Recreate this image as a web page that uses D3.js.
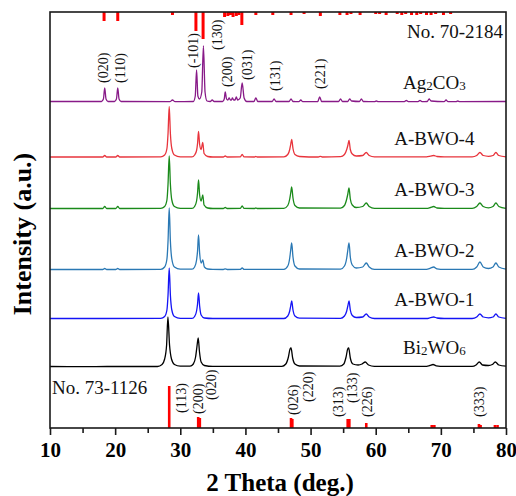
<!DOCTYPE html>
<html>
<head>
<meta charset="utf-8">
<script src="https://d3js.org/d3.v7.min.js"></script>
<style>
  body { margin: 0; background: #fff; }
  svg { display: block; }
  text { font-family: "Times New Roman", "Liberation Serif", serif; }
</style>
</head>
<body>
<svg width="516" height="496"></svg>
<script>
// 2 theta, intensity (a.u.), above each pattern's own baseline
var bi2wo6 = [
    [10, 0.5], [14, 0.3], [20, 0.5], [26.5, 0.5], [27.2, 2.5], [27.6, 8], [27.9, 22], [28.1, 50], [28.35, 22], [28.65, 8], [29.1, 2.5], [30, 0.8],
    [31.5, 0.8], [32.0, 3], [32.35, 10], [32.55, 20], [32.75, 29], [32.95, 15], [33.2, 5], [33.7, 1.5], [35, 0.6],
    [45.6, 0.6], [46.2, 3], [46.6, 10], [46.85, 18], [47.0, 19], [47.25, 9], [47.6, 3], [48.3, 1],
    [54.5, 0.8], [55.1, 3], [55.45, 10], [55.7, 18], [55.85, 19], [56.1, 9], [56.5, 3], [57.3, 2], [57.9, 3], [58.4, 5], [58.9, 2], [59.8, 0.6],
    [67.5, 0.6], [68.3, 1.5], [68.8, 2.5], [69.3, 1.2], [70.5, 0.6],
    [74.8, 0.6], [75.4, 2], [75.9, 5], [76.4, 2], [77.3, 1.5], [77.9, 2.5], [78.35, 5], [78.9, 2], [80, 0.8]
];

var bwo1 = [
    [10, 0.5], [18, 0.5], [27.0, 0.6], [27.6, 2.5], [27.95, 9], [28.12, 24], [28.3, 51], [28.48, 24], [28.7, 9], [29.1, 2.5], [30, 0.6],
    [31.8, 0.6], [32.2, 2.5], [32.5, 8], [32.65, 15], [32.8, 26], [32.97, 13], [33.2, 4], [33.7, 1], [35, 0.5],
    [45.9, 0.5], [46.5, 3], [46.8, 8], [46.95, 13], [47.1, 18], [47.3, 9], [47.6, 3], [48.3, 0.8],
    [54.6, 0.6], [55.2, 3], [55.55, 8], [55.72, 13], [55.9, 18], [56.1, 9], [56.4, 3.5], [57.0, 1.5], [58.0, 2], [58.55, 5], [59.0, 2], [59.8, 0.5],
    [67.8, 0.5], [68.4, 1.3], [68.9, 2], [69.4, 1], [70.5, 0.5],
    [74.8, 0.5], [75.5, 2], [76.0, 5], [76.5, 2], [77.3, 1.2], [78.0, 2], [78.45, 5], [78.9, 2], [80, 0.6]
];

var bwo2 = [
    [10, 0.5], [18.1, 0.5], [18.4, 1.5], [18.7, 0.5], [20.1, 0.5], [20.4, 1.5], [20.7, 0.5],
    [27.0, 0.6], [27.6, 3], [27.95, 11], [28.12, 29], [28.3, 62], [28.48, 29], [28.7, 11], [29.1, 3], [30, 0.8],
    [31.8, 0.8], [32.2, 3], [32.5, 10], [32.65, 19], [32.8, 35], [32.97, 17], [33.2, 7], [33.45, 10], [33.7, 3], [34.2, 1], [35, 0.6],
    [36.6, 0.5], [36.9, 1.2], [37.2, 0.5], [39.2, 0.6], [39.5, 2], [39.8, 0.6],
    [45.9, 0.6], [46.5, 4], [46.8, 12], [46.95, 20], [47.1, 27], [47.3, 13], [47.6, 4], [48.3, 1],
    [54.6, 0.8], [55.2, 4], [55.55, 12], [55.72, 20], [55.9, 27], [56.1, 13], [56.4, 5], [57.0, 2], [58.0, 3], [58.55, 7], [59.0, 3], [59.8, 0.6],
    [67.8, 0.6], [68.4, 1.8], [68.9, 3], [69.4, 1.2], [70.5, 0.6],
    [74.8, 0.6], [75.5, 3], [76.0, 8], [76.5, 3], [77.3, 1.5], [78.0, 3], [78.45, 7], [78.9, 3], [80, 0.8]
];

var bwo3 = [
    [10, 0.5], [18.1, 0.5], [18.4, 2.5], [18.7, 0.5], [20.1, 0.5], [20.4, 2.5], [20.7, 0.5],
    [27.0, 0.6], [27.6, 2.5], [27.95, 9], [28.12, 25], [28.3, 53], [28.48, 25], [28.7, 9], [29.1, 2.5], [30, 0.6],
    [31.8, 0.6], [32.2, 2.5], [32.5, 8], [32.65, 16], [32.8, 29], [32.97, 14], [33.2, 8], [33.45, 14], [33.65, 4], [34.2, 1], [35, 0.5],
    [36.6, 0.5], [36.9, 1.5], [37.2, 0.5], [39.2, 0.6], [39.5, 3], [39.8, 0.6], [41.4, 0.5], [41.6, 1.2], [41.8, 0.5],
    [45.9, 0.6], [46.5, 3.5], [46.8, 10], [46.95, 16], [47.1, 22], [47.3, 11], [47.6, 3.5], [48.3, 1],
    [54.6, 0.8], [55.2, 3.5], [55.55, 10], [55.72, 15], [55.9, 21], [56.1, 10], [56.4, 4], [57.0, 1.5], [58.0, 2.5], [58.55, 6], [59.0, 2.5], [59.8, 0.6],
    [67.8, 0.6], [68.4, 1.5], [68.9, 2.5], [69.4, 1], [70.5, 0.6],
    [74.8, 0.6], [75.5, 2.5], [76.0, 6], [76.5, 2.5], [77.3, 1.2], [78.0, 2.5], [78.45, 6], [78.9, 2.5], [80, 0.6]
];

var bwo4 = [
    [10, 0.5], [18.1, 0.5], [18.4, 2], [18.7, 0.5], [20.1, 0.5], [20.4, 2], [20.7, 0.5],
    [27.0, 0.6], [27.6, 2.5], [27.95, 9], [28.12, 24], [28.3, 51], [28.48, 24], [28.7, 9], [29.1, 2.5], [30, 0.6],
    [31.8, 0.6], [32.2, 2.5], [32.5, 7], [32.65, 14], [32.8, 26], [32.97, 13], [33.2, 8], [33.45, 15], [33.65, 4], [34.2, 1], [35, 0.5],
    [36.6, 0.5], [36.9, 1.5], [37.2, 0.5], [39.2, 0.6], [39.5, 3], [39.8, 0.6], [41.4, 0.5], [41.6, 1], [41.8, 0.5],
    [45.9, 0.6], [46.5, 3], [46.8, 8], [46.95, 13], [47.1, 18], [47.3, 9], [47.6, 3], [48.3, 1],
    [51.2, 0.5], [51.5, 1.2], [51.8, 0.5],
    [54.6, 0.8], [55.2, 3], [55.55, 8], [55.72, 12], [55.9, 17], [56.1, 8], [56.4, 3.5], [57.0, 1.5], [58.0, 2], [58.55, 5], [59.0, 2], [59.8, 0.6],
    [67.8, 0.6], [68.4, 1.3], [68.9, 2], [69.4, 1], [70.5, 0.6],
    [74.8, 0.6], [75.5, 2], [76.0, 5], [76.5, 2], [77.3, 1.2], [78.0, 2], [78.45, 5], [78.9, 2], [80, 0.6]
];

var ag2co3 = [
    [10, 0.5], [17.9, 0.5], [18.2, 3], [18.4, 14], [18.6, 3], [18.9, 0.5],
    [19.9, 0.5], [20.2, 3], [20.4, 14], [20.6, 3], [20.9, 0.5],
    [28.4, 0.3], [28.8, 2], [29.2, 0.3],
    [32.0, 0.5], [32.3, 6], [32.5, 32], [32.7, 6], [32.95, 3], [33.3, 10], [33.55, 56], [33.8, 10], [34.1, 1], [34.6, 0.5], [34.9, 2], [35.2, 0.5],
    [36.5, 0.5], [36.75, 3], [36.9, 10], [37.1, 3], [37.3, 2], [37.5, 4], [37.7, 2], [37.85, 2], [38.0, 4], [38.2, 2], [38.4, 2], [38.6, 5], [38.8, 2],
    [39.2, 4], [39.5, 19], [39.8, 4], [40.2, 0.5],
    [41.3, 0.5], [41.6, 4], [41.9, 0.5],
    [44.1, 0.5], [44.4, 3], [44.7, 0.5],
    [46.7, 0.5], [47.0, 3], [47.3, 0.5],
    [48.2, 0.3], [48.5, 2], [48.8, 0.3],
    [51.1, 0.5], [51.4, 5], [51.7, 0.5],
    [54.3, 0.5], [54.6, 3], [54.9, 0.5],
    [55.7, 0.5], [56.0, 3], [56.3, 1], [57.5, 0.5], [57.8, 3], [58.1, 0.5],
    [59.8, 0.3], [60.1, 1], [60.4, 0.3],
    [64.4, 0.3], [64.7, 1.5], [65.0, 0.3],
    [66.5, 0.3], [66.8, 1.5], [67.1, 0.3],
    [67.9, 0.5], [68.2, 3], [68.5, 1], [70.5, 0.3], [70.8, 2], [71.1, 0.3],
    [72.3, 0.3], [72.6, 1], [72.9, 0.3], [80, 0.5]
];

// stacking offsets of each pattern (a.u.)
var names = ["Bi2WO6", "A-BWO-1", "A-BWO-2", "A-BWO-3", "A-BWO-4", "Ag2CO3"];
var offsets = [61, 109, 158, 219, 270.5, 326];
var colors = ["#000000", "#1414f5", "#2a78b4", "#1a8a1a", "#e8343c", "#881a88"];
var patterns = [bi2wo6, bwo1, bwo2, bwo3, bwo4, ag2co3];

// reference cards: [2 theta, relative height]
var ref73 = [[28.3, 42], [32.75, 11], [33.0, 10], [47.0, 10], [47.2, 9], [55.7, 9], [55.95, 9], [58.55, 5],
    [68.6, 3], [69.0, 3], [75.85, 4], [76.1, 3], [78.3, 3], [78.7, 3]];
var ref70 = [[18.3, 9], [20.4, 9], [28.8, 3], [32.4, 19], [33.5, 27], [36.8, 5], [37.3, 4], [37.7, 3], [38.1, 5],
    [38.6, 4], [39.0, 3], [39.45, 13], [41.6, 3], [44.2, 3], [47.0, 3], [49.0, 2], [51.5, 4], [54.5, 3],
    [55.6, 3], [56.2, 2], [57.6, 3], [60.0, 2], [60.6, 2], [61.6, 3], [63.3, 2], [64.0, 3], [64.6, 2],
    [65.5, 3], [66.3, 3], [66.9, 2], [67.8, 3], [68.5, 3], [69.2, 2], [70.4, 3], [71.5, 2]];

// hkl labels: [text, 2 theta, bottom of label (a.u.)]
var hklTop = [["(020)", 18.1, 345], ["(110)", 20.7, 345], ["(-101)", 32.0, 360], ["(130)", 35.6, 378],
    ["(200)", 37.2, 341], ["(031)", 40.2, 348], ["(131)", 44.5, 337], ["(221)", 51.4, 339]];
var hklBottom = [["(113)", 30.2, 15], ["(200)", 32.7, 14], ["(020)", 34.8, 28], ["(026)", 47.3, 13],
    ["(220)", 49.6, 26], ["(313)", 54.2, 11], ["(133)", 56.4, 25], ["(226)", 58.7, 11], ["(333)", 75.9, 11]];

var xTicks = [10, 20, 30, 40, 50, 60, 70, 80];
var xMinor = [15, 25, 35, 45, 55, 65, 75];

(function () {
    var svg = d3.select("svg");
    var plotLeft = 50, plotRight = 506, plotTop = 12, plotBottom = 428;

    var x = d3.scaleLinear().domain([10, 80]).range([plotLeft, plotRight]);
    var y = d3.scaleLinear().domain([0, 416]).range([plotBottom, plotTop]);

    // reference sticks
    svg.append("g").selectAll("line").data(ref73).enter().append("line")
        .attr("x1", function (d) { return x(d[0]); })
        .attr("x2", function (d) { return x(d[0]); })
        .attr("y1", y(0))
        .attr("y2", function (d) { return y(d[1]); })
        .attr("stroke", "#ff0000")
        .attr("stroke-width", 2.6);

    svg.append("g").selectAll("line").data(ref70).enter().append("line")
        .attr("x1", function (d) { return x(d[0]); })
        .attr("x2", function (d) { return x(d[0]); })
        .attr("y1", y(416))
        .attr("y2", function (d) { return y(416 - d[1]); })
        .attr("stroke", "#ff0000")
        .attr("stroke-width", 3);

    // patterns
    var line = d3.line().curve(d3.curveMonotoneX);
    patterns.forEach(function (pts, i) {
        svg.append("path")
            .attr("fill", "none")
            .attr("stroke", colors[i])
            .attr("stroke-width", 1.3)
            .attr("stroke-linejoin", "round")
            .attr("d", line(pts.map(function (p) { return [x(p[0]), y(p[1] + offsets[i])]; })));
    });

    // frame
    svg.append("rect")
        .attr("x", plotLeft).attr("y", plotTop)
        .attr("width", plotRight - plotLeft).attr("height", plotBottom - plotTop)
        .attr("fill", "none")
        .attr("stroke", "#1a1a1a")
        .attr("stroke-width", 1.6);

    // x axis
    var xAxis = svg.append("g")
        .attr("transform", "translate(0," + plotBottom + ")")
        .call(d3.axisBottom(x).tickValues(xTicks).tickSize(7).tickPadding(7).tickFormat(d3.format("d")));
    xAxis.select(".domain").remove();
    xAxis.selectAll("line").attr("stroke", "#1a1a1a").attr("stroke-width", 1.6);
    xAxis.selectAll("text")
        .attr("fill", "#000")
        .style("font-family", "'Times New Roman', 'Liberation Serif', serif")
        .style("font-size", "21px")
        .style("font-weight", "bold");

    var xAxisMinor = svg.append("g")
        .attr("transform", "translate(0," + plotBottom + ")")
        .call(d3.axisBottom(x).tickValues(xMinor).tickSize(5).tickFormat(""));
    xAxisMinor.select(".domain").remove();
    xAxisMinor.selectAll("line").attr("stroke", "#1a1a1a").attr("stroke-width", 1.6);

    // axis titles
    svg.append("text")
        .attr("x", (plotLeft + plotRight) / 2 + 2)
        .attr("y", 491)
        .attr("text-anchor", "middle")
        .style("font-size", "25px")
        .style("font-weight", "bold")
        .text("2 Theta (deg.)");

    svg.append("text")
        .attr("transform", "translate(31,234) rotate(-90)")
        .attr("text-anchor", "middle")
        .style("font-size", "26px")
        .style("font-weight", "bold")
        .text("Intensity (a.u.)");

    // pattern names, digits of formulas as small subscripts
    function addName(sel, name) {
        var chem = name.indexOf("-") < 0;
        var wasSmall = false;
        name.split(/(\d)/).forEach(function (part) {
            if (!part) return;
            var small = chem && /\d/.test(part);
            sel.append("tspan")
                .style("font-size", small ? "13px" : "19px")
                .attr("dy", small ? 1 : (wasSmall ? -1 : 0))
                .text(part);
            wasSmall = small;
        });
    }

    names.forEach(function (n, i) {
        var t = svg.append("text")
            .attr("x", x(69))
            .attr("y", y(offsets[i]) - 13)
            .attr("text-anchor", "middle")
            .attr("fill", "#111");
        addName(t, n);
    });

    svg.append("text")
        .attr("x", 503).attr("y", 38)
        .attr("text-anchor", "end")
        .style("font-size", "19px")
        .attr("fill", "#111")
        .text("No. 70-2184");

    svg.append("text")
        .attr("x", 52).attr("y", 394)
        .style("font-size", "19px")
        .attr("fill", "#111")
        .text("No. 73-1126");

    // hkl labels
    svg.append("g").selectAll("text").data(hklTop.concat(hklBottom)).enter().append("text")
        .attr("transform", function (d) { return "translate(" + x(d[1]) + "," + y(d[2]) + ") rotate(-90)"; })
        .attr("dy", "0.35em")
        .style("font-size", "14px")
        .attr("fill", "#111")
        .text(function (d) { return d[0]; });
})();
</script>
</body>
</html>
